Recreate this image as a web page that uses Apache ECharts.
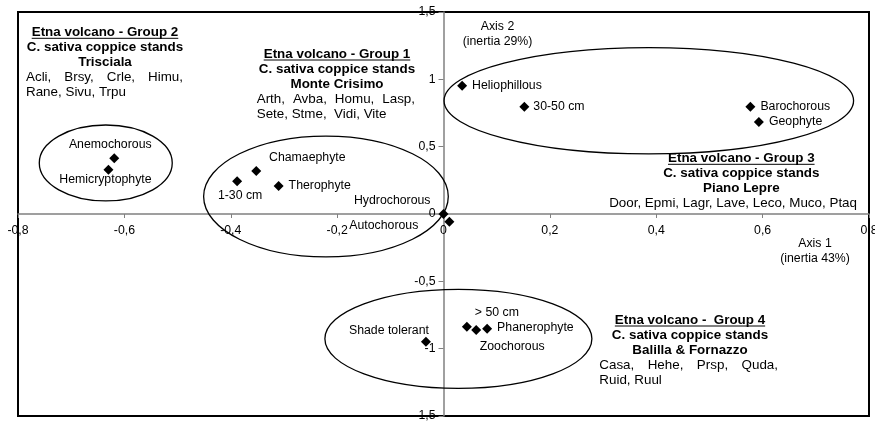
<!DOCTYPE html>
<html><head><meta charset="utf-8">
<script src="https://cdn.jsdelivr.net/npm/echarts@6/dist/echarts.min.js"></script>
<style>html,body{margin:0;padding:0;background:#fff}#c{width:875px;height:421px}</style>
</head><body><div id="c"></div>
<script>
// ---- data ----
const pointNames = ['Anemochorous','Hemicryptophyte','Chamaephyte','1-30 cm','Therophyte','Hydrochorous','Autochorous','Heliophillous','30-50 cm','Barochorous','Geophyte','Shade tolerant','> 50 cm','Zoochorous','Phanerophyte'];
const axis1Scores = [-0.619,-0.630,-0.352,-0.388,-0.310,0.000,0.011,0.035,0.152,0.577,0.593,-0.033,0.044,0.0615,0.082];
const axis2Scores = [0.414,0.329,0.319,0.243,0.208,0.000,-0.057,0.953,0.797,0.797,0.683,-0.948,-0.837,-0.861,-0.852];

const ellipseCx = [-0.635,-0.221,0.386,0.028];
const ellipseCy = [0.379,0.130,0.841,-0.927];
const ellipseRx = [0.125,0.230,0.385,0.251];
const ellipseRy = [0.282,0.449,0.395,0.368];

const xTickLabels = ['-0,8','-0,6','-0,4','-0,2','0','0,2','0,4','0,6','0,8'];
const yTickLabels = ['-1,5','-1','-0,5','0','0,5','1','1,5'];

const groupHeaders = ['Etna volcano - Group 2','Etna volcano - Group 1','Etna volcano - Group 3','Etna volcano -  Group 4'];
const groupSubtitle = 'C. sativa coppice stands';
const groupSites = ['Trisciala','Monte Crisimo','Piano Lepre','Balilla & Fornazzo'];
const groupSpecies = [
  ['Acli, Brsy, Crle, Himu,','Rane, Sivu, Trpu'],
  ['Arth, Avba, Homu, Lasp,','Sete, Stme,  Vidi, Vite'],
  ['Door, Epmi, Lagr, Lave, Leco, Muco, Ptaq'],
  ['Casa, Hehe, Prsp, Quda,','Ruid, Ruul']
];
const axisTitles = [['Axis 2','(inertia 29%)'],['Axis 1','(inertia 43%)']];

// ---- styling / layout ----
const FAM = '"Liberation Sans", Arial, Helvetica, sans-serif';
const labelFont = 12.3;
const labelLayout = {
  'Anemochorous':   {dx:-4, dy:-14, align:'center'},
  'Hemicryptophyte':{dx:-3, dy:10, align:'center'},
  'Chamaephyte':    {dx:51, dy:-13, align:'center'},
  '1-30 cm':        {dx:3, dy:14, align:'center'},
  'Therophyte':     {dx:10, dy:0, align:'left'},
  'Hydrochorous':   {dx:-13, dy:-13, align:'right'},
  'Autochorous':    {dx:-31, dy:4, align:'right'},
  'Heliophillous':  {dx:10, dy:0, align:'left'},
  '30-50 cm':       {dx:9, dy:0, align:'left'},
  'Barochorous':    {dx:10, dy:0, align:'left'},
  'Geophyte':       {dx:10, dy:0, align:'left'},
  'Shade tolerant': {dx:-37, dy:-11, align:'center'},
  '> 50 cm':        {dx:30, dy:-14, align:'center'},
  'Zoochorous':     {dx:36, dy:17, align:'center'},
  'Phanerophyte':   {dx:10, dy:-1, align:'left'}
};
const SYM = 10;
const G = {left:18, right:6, top:12, bottom:5, W:875, H:421};
const gridW = G.W - G.left - G.right, gridH = G.H - G.top - G.bottom;
const blockLayout = [
  {cx:105, y:32.3, left:26, right:183, mode:'justify'},
  {cx:337, y:54, left:256.7, right:415, mode:'justify'},
  {cx:741.3, y:158.3, right:857, mode:'right'},
  {cx:690, y:320, left:599.3, right:778, mode:'justify'}
];
const LH = 15.1;
const titleLayout = [{x:497.5, y:26.7}, {x:815, y:244}];

const ctx = document.createElement('canvas').getContext('2d');
function measure(text, font){ ctx.font = font; return ctx.measureText(text).width; }
function txt(x, y, text, font, align){
  return {type:'text', x:x, y:y, z:100, silent:true,
    style:{text:text, font:font, fill:'#000', align:align, textAlign:align, verticalAlign:'middle', textVerticalAlign:'middle'}};
}

const graphics = [];
const boldFont = 'bold 13.4px ' + FAM;
const regFont = '13.4px ' + FAM;
blockLayout.forEach((b, gi) => {
  const hw = measure(groupHeaders[gi], boldFont);
  graphics.push(txt(b.cx, b.y, groupHeaders[gi], boldFont, 'center'));
  graphics.push({type:'line', z:100, silent:true, shape:{x1:b.cx-hw/2, y1:b.y+6, x2:b.cx+hw/2, y2:b.y+6}, style:{stroke:'#000', lineWidth:1}});
  graphics.push(txt(b.cx, b.y+LH, groupSubtitle, boldFont, 'center'));
  graphics.push(txt(b.cx, b.y+2*LH, groupSites[gi], boldFont, 'center'));
  const lines = groupSpecies[gi];
  lines.forEach((ln, li) => {
    const yy = b.y + (3+li)*LH;
    if (b.mode === 'right') {
      graphics.push(txt(b.right, yy, ln, regFont, 'right'));
    } else if (li < lines.length-1) {
      const words = ln.split(/\s+/);
      const ws = words.map(w => measure(w, regFont));
      const tot = ws.reduce((a,c)=>a+c,0);
      const gap = (b.right - b.left - tot)/(words.length-1);
      let xx = b.left;
      words.forEach((w,wi) => { graphics.push(txt(xx, yy, w, regFont, 'left')); xx += ws[wi] + gap; });
    } else {
      graphics.push(txt(b.left, yy, ln, regFont, 'left'));
    }
  });
});
titleLayout.forEach((t, i) => {
  graphics.push(txt(t.x, t.y, axisTitles[i][0], labelFont + 'px ' + FAM, 'center'));
  graphics.push(txt(t.x, t.y+15, axisTitles[i][1], labelFont + 'px ' + FAM, 'center'));
});

const scatterData = pointNames.map((n, i) => {
  const L = labelLayout[n];
  return {name:n, value:[axis1Scores[i], axis2Scores[i]],
    label:{show:true, position:[SYM/2 + L.dx, SYM/2 + L.dy], align:L.align, verticalAlign:'middle'}};
});

const chart = echarts.init(document.getElementById('c'), null, {renderer:'canvas'});
chart.setOption({
  animation:false,
  backgroundColor:'#fff',
  textStyle:{fontFamily:FAM},
  grid:{left:G.left, right:G.right, top:G.top, bottom:G.bottom, show:true, borderColor:'#000', borderWidth:2,
    backgroundColor:'transparent', containLabel:false, outerBoundsMode:'none'},
  xAxis:{type:'value', min:-0.8, max:0.8, interval:0.2, position:'bottom', offset:-gridH/2,
    axisLine:{onZero:false, lineStyle:{color:'#808080', width:1.5}},
    axisTick:{show:true, inside:false, length:4, lineStyle:{color:'#808080', width:1}},
    axisLabel:{color:'#000', fontSize:labelFont, fontFamily:FAM, margin:11, showMinLabel:true, showMaxLabel:true, hideOverlap:false,
      formatter:v => xTickLabels[Math.round((v + 0.8)/0.2)]},
    splitLine:{show:false}},
  yAxis:{type:'value', min:-1.5, max:1.5, interval:0.5, position:'left', offset:-gridW/2,
    axisLine:{onZero:false, lineStyle:{color:'#808080', width:1.5}},
    axisTick:{show:true, inside:false, length:5, lineStyle:{color:'#808080', width:1}},
    axisLabel:{color:'#000', fontSize:labelFont, fontFamily:FAM, margin:8, showMinLabel:true, showMaxLabel:true, hideOverlap:false,
      formatter:v => yTickLabels[Math.round((v + 1.5)/0.5)]},
    splitLine:{show:false}},
  series:[
    {type:'custom', silent:true, z:3,
      data: ellipseCx.map((c,i)=>[c, ellipseCy[i], ellipseRx[i], ellipseRy[i]]),
      encode:{x:0, y:1},
      renderItem:(params, api) => {
        const c = api.coord([api.value(0), api.value(1)]);
        const e = api.coord([api.value(0)+api.value(2), api.value(1)+api.value(3)]);
        return {type:'ellipse', shape:{cx:c[0], cy:c[1], rx:Math.abs(e[0]-c[0]), ry:Math.abs(e[1]-c[1])},
          style:{fill:'none', stroke:'#000', lineWidth:1.3}};
      }},
    {type:'scatter', z:5, symbol:'diamond', symbolSize:SYM, itemStyle:{color:'#000', opacity:1},
      label:{color:'#000', fontSize:labelFont, fontFamily:FAM, formatter:'{b}'},
      data:scatterData}
  ],
  graphic:graphics
});
</script>
</body></html>
